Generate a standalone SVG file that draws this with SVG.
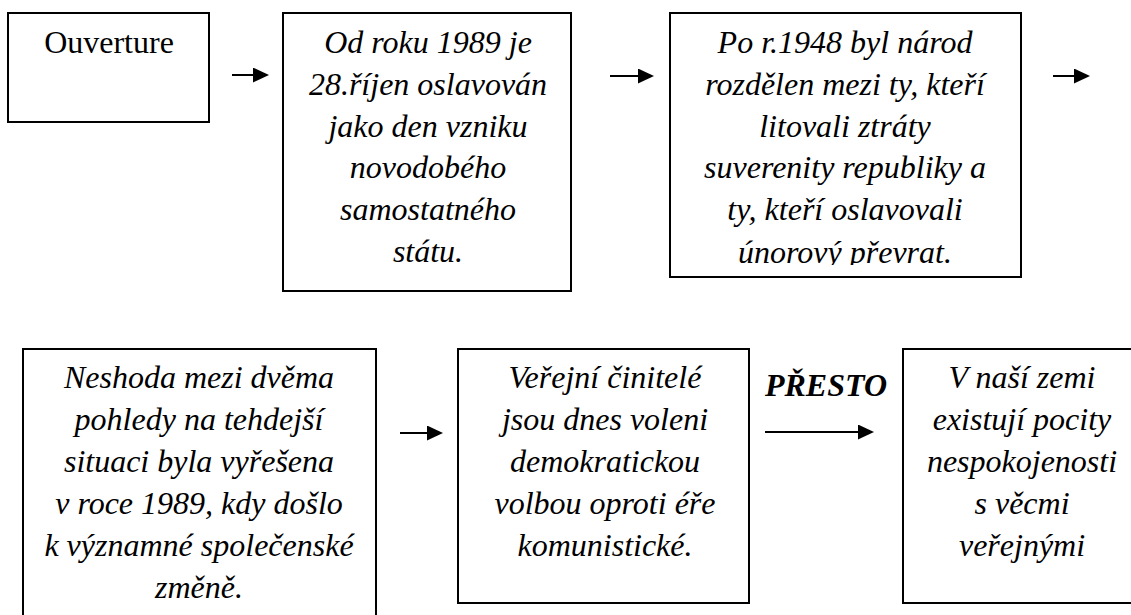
<svg xmlns="http://www.w3.org/2000/svg" width="1131" height="615" viewBox="0 0 1131 615">
<style>
.box{fill:#fff;stroke:#000;stroke-width:2}
.t{font-family:'Liberation Serif','Times New Roman',serif;font-size:32px;font-style:italic;text-anchor:middle;fill:#000}
.r{font-style:normal}
.b{font-weight:bold}
.c{stroke:#000;stroke-width:2;fill:none}
</style>
<defs>
<marker id="ah" markerUnits="userSpaceOnUse" markerWidth="16" markerHeight="15" refX="0" refY="7.5" orient="auto">
<path d="M0,0 L16,7.5 L0,15 z" fill="#000"/>
</marker>
<clipPath id="clip3"><rect x="670" y="13" width="351" height="252"/></clipPath>
</defs>
<rect width="1131" height="615" fill="#fff"/>
<g id="n1">
<rect class="box" x="8" y="13" width="201" height="109"/>
<text class="t r" x="109" y="53">Ouverture</text>
</g>
<g id="n2">
<rect class="box" x="283" y="13" width="288" height="278"/>
<text class="t" x="428" y="53">Od roku 1989 je</text>
<text class="t" x="428" y="95">28.říjen oslavován</text>
<text class="t" x="428" y="137">jako den vzniku</text>
<text class="t" x="428" y="178">novodobého</text>
<text class="t" x="428" y="220">samostatného</text>
<text class="t" x="428" y="262">státu.</text>
</g>
<g id="n3">
<rect class="box" x="670" y="13" width="351" height="264"/>
<g clip-path="url(#clip3)">
<text class="t" x="845" y="53">Po r.1948 byl národ</text>
<text class="t" x="845" y="95">rozdělen mezi ty, kteří</text>
<text class="t" x="845" y="137">litovali ztráty</text>
<text class="t" x="845" y="178">suverenity republiky a</text>
<text class="t" x="845" y="220">ty, kteří oslavovali</text>
<text class="t" x="845" y="263">únorový převrat.</text>
</g>
</g>
<g id="n4">
<path class="box" d="M23,615 V349 H376 V615"/>
<text class="t" x="199" y="388">Neshoda mezi dvěma</text>
<text class="t" x="199" y="430">pohledy na tehdejší</text>
<text class="t" x="199" y="472">situaci byla vyřešena</text>
<text class="t" x="199" y="514">v roce 1989, kdy došlo</text>
<text class="t" x="199" y="556">k významné společenské</text>
<text class="t" x="199" y="598">změně.</text>
</g>
<g id="n5">
<rect class="box" x="458" y="349" width="291" height="254"/>
<text class="t" x="605" y="388">Veřejní činitelé</text>
<text class="t" x="605" y="430">jsou dnes voleni</text>
<text class="t" x="605" y="472">demokratickou</text>
<text class="t" x="605" y="514">volbou oproti éře</text>
<text class="t" x="605" y="556">komunistické.</text>
</g>
<g id="n6">
<path class="box" d="M1131,349 H903 V603 H1131"/>
<text class="t" x="1022" y="388">V naší zemi</text>
<text class="t" x="1022" y="430">existují pocity</text>
<text class="t" x="1022" y="472">nespokojenosti</text>
<text class="t" x="1022" y="514">s věcmi</text>
<text class="t" x="1022" y="556">veřejnými</text>
</g>
<g id="connectors">
<line class="c" x1="232" y1="75" x2="253" y2="75" marker-end="url(#ah)"/>
<line class="c" x1="610" y1="76" x2="638" y2="76" marker-end="url(#ah)"/>
<line class="c" x1="1053" y1="76" x2="1074" y2="76" marker-end="url(#ah)"/>
<line class="c" x1="400" y1="433" x2="427" y2="433" marker-end="url(#ah)"/>
<line class="c" x1="765" y1="432" x2="858" y2="432" marker-end="url(#ah)"/>
<text class="t b" x="826" y="396">PŘESTO</text>
</g>
</svg>
